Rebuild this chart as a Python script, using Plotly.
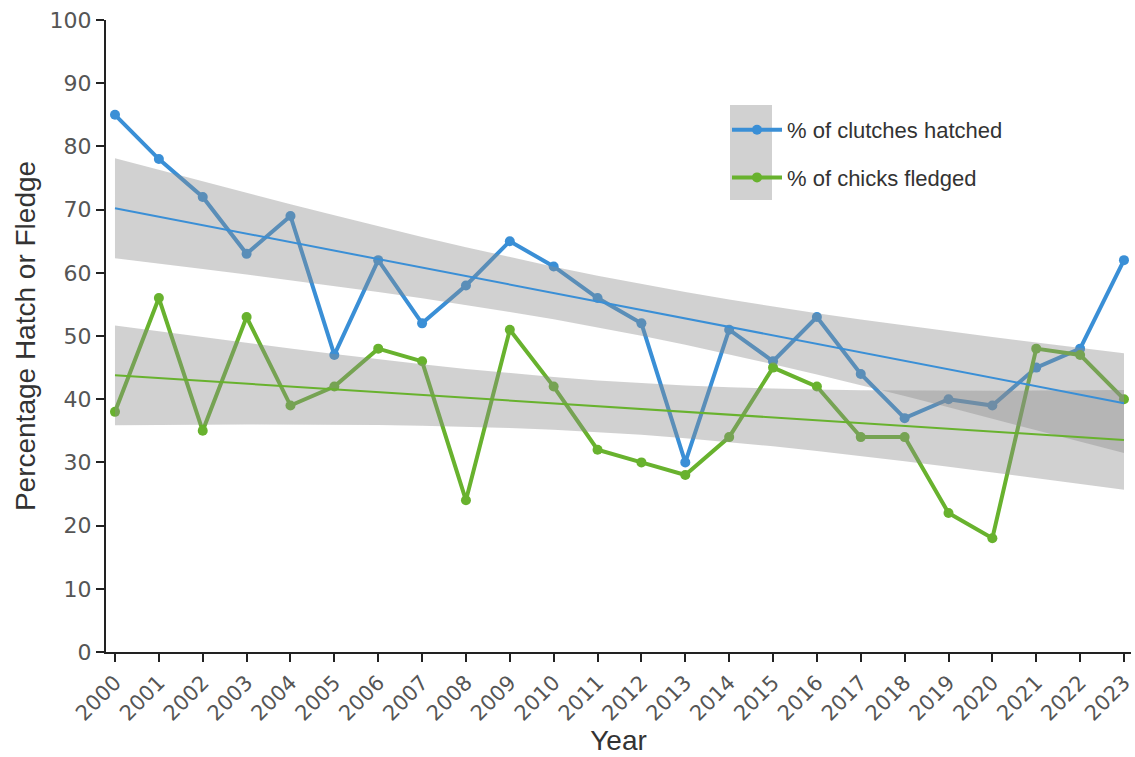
import numpy as np
import plotly.graph_objects as go

years = list(range(2000, 2024))
hatched = [85, 78, 72, 63, 69, 47, 62, 52, 58, 65, 61, 56, 52, 30, 51, 46, 53, 44, 37, 40, 39, 45, 48, 62]
fledged = [38, 56, 35, 53, 39, 42, 48, 46, 24, 51, 42, 32, 30, 28, 34, 45, 42, 34, 34, 22, 18, 48, 47, 40]
tick_labels = [str(y) for y in years]

BLUE = "#3a8fd6"
GREEN = "#68b22e"
BAND = "rgba(140,140,140,0.40)"
T95 = 2.074  # t critical value, df = 22


def fit_with_ci(x, y):
    x = np.asarray(x, float)
    y = np.asarray(y, float)
    n = len(x)
    b, a = np.polyfit(x, y, 1)
    yhat = a + b * x
    s = np.sqrt(np.sum((y - yhat) ** 2) / (n - 2))
    se = s * np.sqrt(1 / n + (x - x.mean()) ** 2 / np.sum((x - x.mean()) ** 2))
    return yhat, yhat - T95 * se, yhat + T95 * se


fig = go.Figure()

# observed series (drawn first; bands sit on top like the original)
fig.add_trace(go.Scatter(x=years, y=hatched, mode="lines+markers", name="% of clutches hatched",
                         line=dict(color=BLUE, width=4), marker=dict(color=BLUE, size=10),
                         legendgroup="a"))
fig.add_trace(go.Scatter(x=years, y=fledged, mode="lines+markers", name="% of chicks fledged",
                         line=dict(color=GREEN, width=4), marker=dict(color=GREEN, size=10),
                         legendgroup="b"))

fits = [(fit_with_ci(years, vals), color) for vals, color in [(hatched, BLUE), (fledged, GREEN)]]

for (yhat, lo, hi), color in fits:
    fig.add_trace(go.Scatter(x=years + years[::-1], y=list(hi) + list(lo[::-1]),
                             fill="toself", fillcolor=BAND,
                             line=dict(width=0), mode="lines", showlegend=False,
                             hoverinfo="skip"))

for (yhat, lo, hi), color in fits:
    fig.add_trace(go.Scatter(x=years, y=yhat, mode="lines",
                             line=dict(color=color, width=2), showlegend=False))

# grey patch behind legend symbols (band key)
fig.add_shape(type="rect", xref="paper", yref="paper",
              x0=(730 - 106) / 1025, x1=(772 - 106) / 1025,
              y0=(652 - 200) / 632, y1=(652 - 105) / 632,
              fillcolor=BAND, line=dict(width=0), layer="above")

fig.update_layout(
    width=1135, height=757,
    margin=dict(l=106, r=4, t=20, b=105),
    plot_bgcolor="white", paper_bgcolor="white",
    font=dict(family="Liberation Sans, Arial, sans-serif", color="#333"),
    showlegend=True,
    legend=dict(x=(727 - 106) / 1025, y=(652 - 109) / 632, xanchor="left", yanchor="top",
                bgcolor="rgba(0,0,0,0)", font=dict(size=22, color="#333"),
                tracegroupgap=16, itemwidth=50),
    xaxis=dict(range=[1999.795, 2023.16], tickmode="array", tickvals=years, ticktext=tick_labels,
               tickangle=-45, ticks="outside", ticklen=8, tickcolor="#222", tickwidth=1.5,
               showline=True, linecolor="#222", linewidth=2, showgrid=False, zeroline=False,
               automargin=False, ticklabeloverflow="allow",
               tickfont=dict(size=21, color="#555", family="DejaVu Sans, sans-serif"),
               title=dict(text="Year", font=dict(size=28, color="#333"), standoff=4)),
    yaxis=dict(range=[0, 100], tickvals=list(range(0, 101, 10)), ticks="outside", ticklen=8,
               tickcolor="#222", tickwidth=1.5, showline=True, linecolor="#222", linewidth=2,
               showgrid=False, zeroline=False, automargin=False, ticklabeloverflow="allow",
               tickfont=dict(size=22, color="#555", family="DejaVu Sans, sans-serif"),
               title=dict(text="Percentage Hatch or Fledge", font=dict(size=28, color="#333"),
                          standoff=6)),
)

fig.write_html("out.html", config={"displayModeBar": False},
               post_script="document.body.style.margin='0';document.body.style.overflow='hidden';")
